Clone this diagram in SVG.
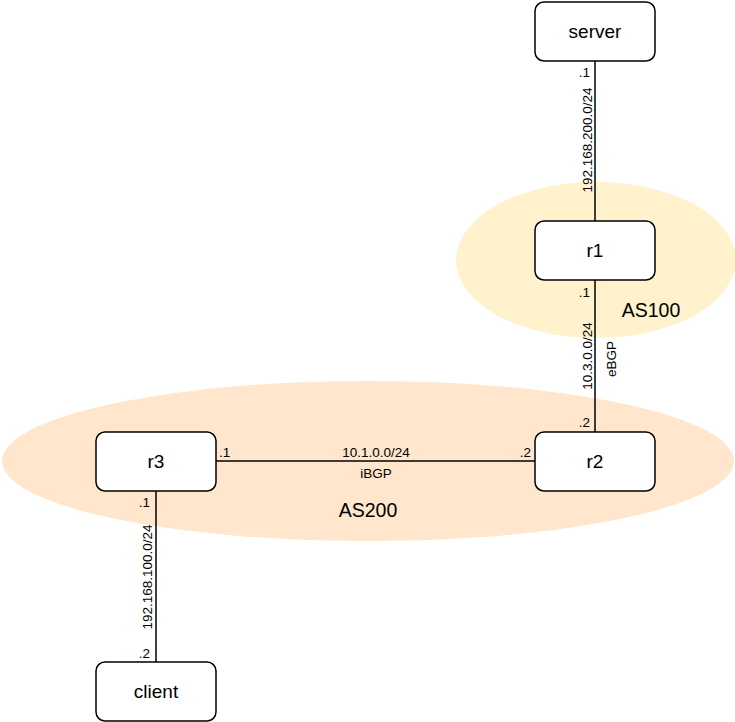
<svg xmlns="http://www.w3.org/2000/svg" width="735" height="722" viewBox="0 0 735 722">
<style>
text{font-family:"Liberation Sans",Arial,sans-serif;fill:#000}
.node rect{fill:#fff;stroke:#000;stroke-width:1.5}
.node text{font-size:19px;text-anchor:middle;dominant-baseline:central}
.lbl{font-size:13.5px}
.as{font-size:19.5px;text-anchor:middle}
.link{stroke:#000;stroke-width:1.5;fill:none}
</style>
<g id="areas">
<ellipse id="as100" cx="596" cy="260" rx="140" ry="78" fill="#fff2cc"/>
<ellipse id="as200" cx="368" cy="461" rx="366" ry="80" fill="#ffe6cc"/>
<text class="as" x="651" y="317">AS100</text>
<text class="as" x="368" y="517">AS200</text>
</g>
<g id="connectors">
<line class="link" x1="595" y1="61" x2="595" y2="221"/>
<line class="link" x1="595" y1="280" x2="595" y2="432"/>
<line class="link" x1="216" y1="461" x2="535" y2="461"/>
<line class="link" x1="156" y1="491" x2="156" y2="662"/>
<text class="lbl" x="590" y="77" text-anchor="end">.1</text>
<text class="lbl" transform="translate(592,140) rotate(-90)" text-anchor="middle">192.168.200.0/24</text>
<text class="lbl" x="590" y="297" text-anchor="end">.1</text>
<text class="lbl" transform="translate(592,356) rotate(-90)" text-anchor="middle">10.3.0.0/24</text>
<text class="lbl" transform="translate(616,359) rotate(-90)" text-anchor="middle">eBGP</text>
<text class="lbl" x="590" y="427" text-anchor="end">.2</text>
<text class="lbl" x="219" y="457">.1</text>
<text class="lbl" x="376" y="457" text-anchor="middle">10.1.0.0/24</text>
<text class="lbl" x="376" y="478" text-anchor="middle">iBGP</text>
<text class="lbl" x="531" y="457" text-anchor="end">.2</text>
<text class="lbl" x="150" y="507" text-anchor="end">.1</text>
<text class="lbl" transform="translate(152,577) rotate(-90)" text-anchor="middle">192.168.100.0/24</text>
<text class="lbl" x="150" y="658" text-anchor="end">.2</text>
</g>
<g id="server" class="node"><rect x="535" y="2" width="120" height="59" rx="9"/><text x="595" y="31.5">server</text></g>
<g id="r1" class="node"><rect x="535" y="221" width="120" height="59" rx="9"/><text x="595" y="250.5">r1</text></g>
<g id="r2" class="node"><rect x="535" y="432" width="120" height="59" rx="9"/><text x="595" y="461.5">r2</text></g>
<g id="r3" class="node"><rect x="96" y="432" width="120" height="59" rx="9"/><text x="156" y="461.5">r3</text></g>
<g id="client" class="node"><rect x="96" y="662" width="120" height="59" rx="9"/><text x="156" y="691.5">client</text></g>
</svg>
